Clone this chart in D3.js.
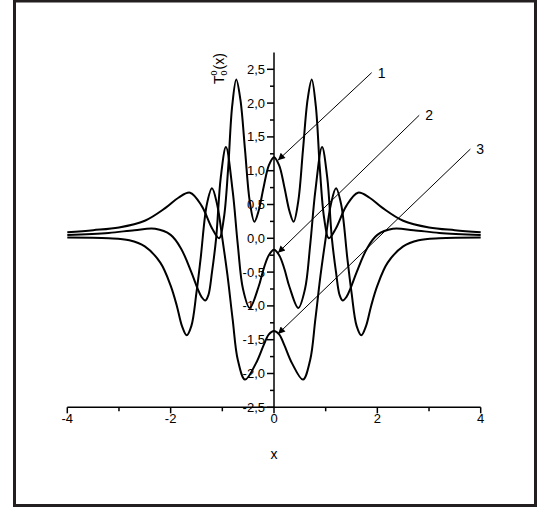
<!DOCTYPE html>
<html>
<head>
<meta charset="utf-8">
<script src="https://cdn.jsdelivr.net/npm/d3@7"></script>
<style>
  html, body { margin: 0; padding: 0; background: #fff; }
  svg { display: block; }
  text { font-family: "Liberation Sans", Arial, sans-serif; fill: #000; }
</style>
</head>
<body>
<svg id="chart" width="542" height="510"></svg>
<script>
// ---------------- data ----------------
const curve1X = [-4, -3.5, -3, -2.5, -2.1, -1.85, -1.625, -1.4, -1.2, -1.06, -0.97, -0.89, -0.81, -0.73, -0.65, -0.56, -0.47, -0.38, -0.3, -0.2, -0.1, 0,
                 0.1, 0.2, 0.3, 0.38, 0.47, 0.56, 0.65, 0.73, 0.81, 0.89, 0.97, 1.06, 1.2, 1.4, 1.625, 1.85, 2.1, 2.5, 3, 3.5, 4];
const curve1Y = [0.09, 0.12, 0.16, 0.26, 0.45, 0.6, 0.675, 0.48, 0.15, 0.0, 0.3, 1.0, 1.95, 2.35, 2.05, 1.3, 0.55, 0.245, 0.4, 0.76, 1.08, 1.2,
                 1.08, 0.76, 0.4, 0.245, 0.55, 1.3, 2.05, 2.35, 1.95, 1.0, 0.3, 0.0, 0.15, 0.48, 0.675, 0.6, 0.45, 0.26, 0.16, 0.12, 0.09];

const curve2X = [-4, -3.2, -2.7, -2.3, -2.0, -1.8, -1.6, -1.48, -1.4, -1.33, -1.27, -1.2, -1.12, -1.03, -0.93, -0.8, -0.7, -0.6, -0.47, -0.3, -0.2, -0.1, 0,
                 0.1, 0.2, 0.3, 0.47, 0.6, 0.7, 0.8, 0.93, 1.03, 1.12, 1.2, 1.27, 1.33, 1.4, 1.48, 1.6, 1.8, 2.0, 2.3, 2.7, 3.2, 4];
const curve2Y = [0.05, 0.08, 0.12, 0.14, 0.05, -0.15, -0.5, -0.74, -0.87, -0.92, -0.84, -0.5, 0.0, 0.9, 1.35, 0.7, -0.1, -0.75, -1.03, -0.72, -0.45, -0.25, -0.17,
                 -0.25, -0.45, -0.72, -1.03, -0.75, -0.1, 0.7, 1.35, 0.9, 0.0, -0.5, -0.84, -0.92, -0.87, -0.74, -0.5, -0.15, 0.05, 0.14, 0.12, 0.08, 0.05];

const curve3X = [-4, -3.2, -2.8, -2.5, -2.2, -2.0, -1.88, -1.78, -1.69, -1.6, -1.5, -1.42, -1.3, -1.2, -1.1, -1.0, -0.9, -0.8, -0.7, -0.56, -0.35, -0.2, -0.1, 0,
                 0.1, 0.2, 0.35, 0.56, 0.7, 0.8, 0.9, 1.0, 1.1, 1.2, 1.3, 1.42, 1.5, 1.6, 1.69, 1.78, 1.88, 2.0, 2.2, 2.5, 2.8, 3.2, 4];
const curve3Y = [0.01, 0.0, -0.03, -0.12, -0.36, -0.7, -1.0, -1.3, -1.435, -1.3, -0.8, -0.3, 0.5, 0.74, 0.5, 0.0, -0.55, -1.2, -1.8, -2.09, -1.85, -1.58, -1.42, -1.37,
                 -1.42, -1.58, -1.85, -2.09, -1.8, -1.2, -0.55, 0.0, 0.5, 0.74, 0.5, -0.3, -0.8, -1.3, -1.435, -1.3, -1.0, -0.7, -0.36, -0.12, -0.03, 0.0, 0.01];

const xTicksMajor = [-4, -2, 0, 2, 4];
const xTicksMinor = [-3, -1, 1, 3];
const xTickLabels = ["-4", "-2", "0", "2", "4"];
const yTicksMajor = [-2.5, -2.0, -1.5, -1.0, -0.5, 0.0, 0.5, 1.0, 1.5, 2.0, 2.5];
const yTicksMinor = [-2.25, -1.75, -1.25, -0.75, -0.25, 0.25, 0.75, 1.25, 1.75, 2.25];
const yTickLabels = ["-2,5", "-2,0", "-1,5", "-1,0", "-0,5", "0,0", "0,5", "1,0", "1,5", "2,0", "2,5"];

// annotation labels: label text, label anchor (data units), target value at x = 0
const annLabels = ["1", "2", "3"];
const annStartX = [1.89, 2.81, 3.80];
const annStartY = [2.45, 1.82, 1.32];
const annTargetY = [1.2, -0.17, -1.37];

// ---------------- drawing ----------------
const svg = d3.select("#chart");
svg.append("rect").attr("width", 542).attr("height", 510).attr("fill", "#fff");
svg.append("rect")
  .attr("x", 14.5).attr("y", 1).attr("width", 521).attr("height", 504.5)
  .attr("fill", "none").attr("stroke", "#231f20").attr("stroke-width", 3);

const x = d3.scaleLinear().domain([-4, 4]).range([67.3, 480.7]);
const y = d3.scaleLinear().domain([-2.5, 2.75]).range([407.3, 52.4]);

// curves
const line = d3.line().x(d => x(d[0])).y(d => y(d[1])).curve(d3.curveCatmullRom.alpha(0.5));
const series = [[curve1X, curve1Y], [curve2X, curve2Y], [curve3X, curve3Y]];
series.forEach(([xs, ys]) => {
  svg.append("path")
    .attr("d", line(xs.map((v, i) => [v, ys[i]])))
    .attr("fill", "none").attr("stroke", "#000").attr("stroke-width", 2)
    .attr("stroke-linejoin", "round");
});

// x axis
const xAxisG = svg.append("g").attr("transform", `translate(0,${y(-2.5)})`);
xAxisG.append("line").attr("x1", x(-4)).attr("x2", x(4)).attr("stroke", "#000").attr("stroke-width", 1.5);
xAxisG.selectAll(".xmaj").data(xTicksMajor).enter().append("line")
  .attr("x1", d => x(d)).attr("x2", d => x(d)).attr("y1", 0).attr("y2", 6)
  .attr("stroke", "#000").attr("stroke-width", 1.5);
xAxisG.selectAll(".xmin").data(xTicksMinor).enter().append("line")
  .attr("x1", d => x(d)).attr("x2", d => x(d)).attr("y1", 0).attr("y2", 4)
  .attr("stroke", "#000").attr("stroke-width", 1.5);
xAxisG.selectAll(".xlab").data(xTicksMajor).enter().append("text")
  .attr("x", d => x(d)).attr("y", 16).attr("text-anchor", "middle")
  .attr("font-size", 13).text((d, i) => xTickLabels[i]);

// y axis
const yAxisG = svg.append("g").attr("transform", `translate(${x(0)},0)`);
yAxisG.append("line").attr("y1", y(-2.5)).attr("y2", y(2.75)).attr("stroke", "#000").attr("stroke-width", 1.5);
yAxisG.selectAll(".ymaj").data(yTicksMajor).enter().append("line")
  .attr("y1", d => y(d)).attr("y2", d => y(d)).attr("x1", 0).attr("x2", -7)
  .attr("stroke", "#000").attr("stroke-width", 1.5);
yAxisG.selectAll(".ymin").data(yTicksMinor).enter().append("line")
  .attr("y1", d => y(d)).attr("y2", d => y(d)).attr("x1", 0).attr("x2", -4)
  .attr("stroke", "#000").attr("stroke-width", 1.5);
yAxisG.selectAll(".ylab").data(yTicksMajor).enter().append("text")
  .attr("x", -9).attr("y", d => y(d) + 4.5).attr("text-anchor", "end")
  .attr("font-size", 13).text((d, i) => yTickLabels[i]);

// axis titles
svg.append("text").attr("x", x(0)).attr("y", 459).attr("text-anchor", "middle")
  .attr("font-size", 14).text("x");
const yt = svg.append("g").attr("transform", `translate(224,84) rotate(-90)`);
yt.append("text").attr("x", 0).attr("y", 0).attr("font-size", 14).text("T");
yt.append("text").attr("x", 8.5).attr("y", 3).attr("font-size", 9).text("0");
yt.append("text").attr("x", 8.5).attr("y", -7.5).attr("font-size", 9).text("0");
yt.append("text").attr("x", 14.5).attr("y", 0).attr("font-size", 14).text("(x)");

// annotations
const defs = svg.append("defs");
defs.append("marker").attr("id", "arr").attr("viewBox", "0 0 10 10")
  .attr("refX", 10).attr("refY", 5).attr("markerWidth", 9).attr("markerHeight", 7)
  .attr("markerUnits", "userSpaceOnUse").attr("orient", "auto")
  .append("path").attr("d", "M0,0 L10,5 L0,10 Z").attr("fill", "#000");

annLabels.forEach((lab, i) => {
  const sx = x(annStartX[i]), sy = y(annStartY[i]);
  const tx = x(0) + 4, ty = y(annTargetY[i]) + 3;
  svg.append("line").attr("x1", sx).attr("y1", sy).attr("x2", tx).attr("y2", ty)
    .attr("stroke", "#000").attr("stroke-width", 1).attr("marker-end", "url(#arr)");
  svg.append("text").attr("x", sx + 6).attr("y", sy + 5).attr("font-size", 14).text(lab);
});
</script>
</body>
</html>
